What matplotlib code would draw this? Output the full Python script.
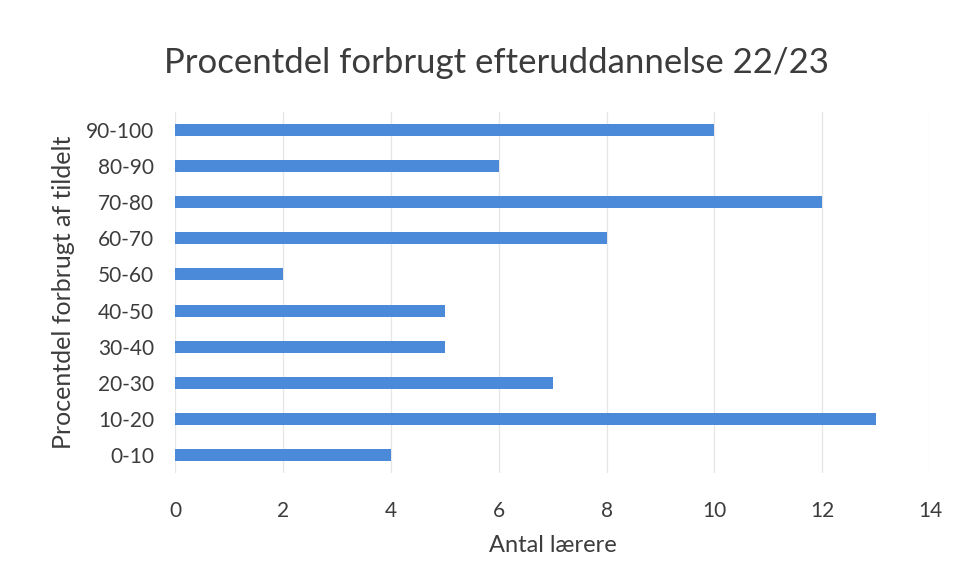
import matplotlib.pyplot as plt

plt.rcParams['font.family'] = ['Lato', 'DejaVu Sans']

categories = ['0-10', '10-20', '20-30', '30-40', '40-50',
              '50-60', '60-70', '70-80', '80-90', '90-100']
antal = [4, 13, 7, 5, 5, 2, 8, 12, 6, 10]
xticks = [0, 2, 4, 6, 8, 10, 12, 14]

fig = plt.figure(figsize=(9.62, 5.85), dpi=100)
ax = fig.add_axes([0.182, 0.191, 0.785, 0.618])

ax.barh(categories, antal, height=0.33, color='#4a8ad8', zorder=2)

ax.set_xlim(0, 14)
ax.set_ylim(-0.5, 9.5)
ax.set_xticks(xticks)
ax.grid(axis='x', color='#e6e6e6', linewidth=0.9, zorder=0)
ax.grid(axis='y', visible=False)
for s in ax.spines.values():
    s.set_visible(False)
ax.tick_params(axis='both', length=0, labelsize=15, colors='#3c3c3c')
ax.tick_params(axis='x', pad=20)
ax.tick_params(axis='y', pad=15)

ax.set_xlabel('Antal lærere', fontsize=17, color='#3c3c3c', labelpad=10)
ax.set_ylabel('Procentdel forbrugt af tildelt', fontsize=18, color='#3c3c3c', labelpad=8)
fig.suptitle('Procentdel forbrugt efteruddannelse 22/23', fontsize=25,
             color='#3c3c3c', x=0.516, y=0.92)

fig.savefig('out.png', dpi=100, facecolor='white')
